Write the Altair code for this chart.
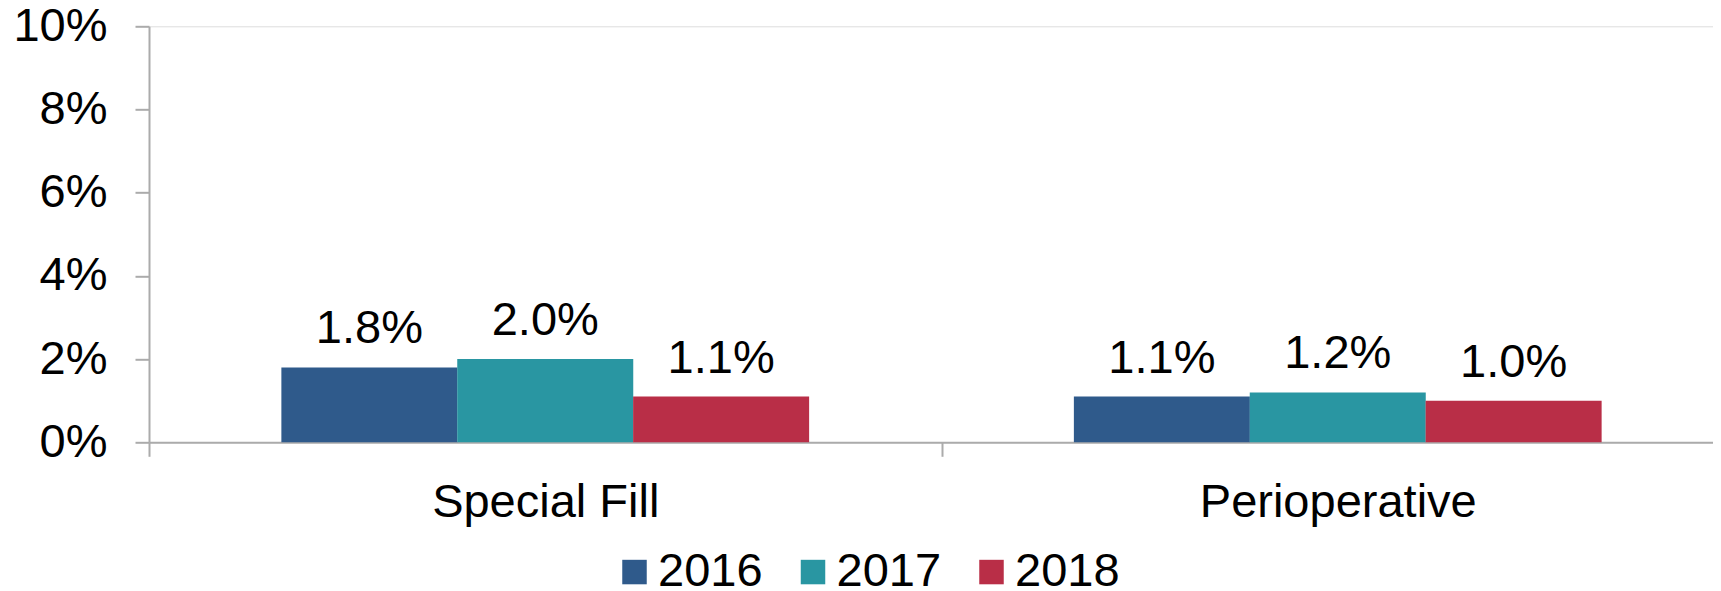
import altair as alt
import pandas as pd

categories = ["Special Fill", "Perioperative"]
years = ["2016", "2017", "2018"]
values_2016 = [0.018, 0.011]
values_2017 = [0.020, 0.012]
values_2018 = [0.011, 0.010]
y_ticks = [0, 0.02, 0.04, 0.06, 0.08, 0.10]
colors = ["#2F5A8B", "#2996A2", "#B92E47"]

rows = []
for year, vals in zip(years, [values_2016, values_2017, values_2018]):
    for cat, v in zip(categories, vals):
        rows.append({"category": cat, "year": year, "value": v})
df = pd.DataFrame(rows)

FONT = "Liberation Sans"
FS = 47
AXIS_COLOR = "#ABABAB"

x_enc = alt.X("category:N", sort=categories,
              scale=alt.Scale(paddingInner=0, paddingOuter=0, range=[0, 1585]),
              axis=alt.Axis(title=None, labelAngle=0, tickBand="extent", tickSize=14,
                            labelPadding=23, labelFontSize=FS, labelFont=FONT, labelLimit=0,
                            labelColor="#000000", domainColor=AXIS_COLOR, tickColor=AXIS_COLOR,
                            domainWidth=2, tickWidth=2, grid=False))
xoff = alt.XOffset("year:N", sort=years,
                   scale=alt.Scale(paddingInner=0, paddingOuter=0.753))
y_enc = alt.Y("value:Q", scale=alt.Scale(domain=[0, 0.10], nice=False),
              axis=alt.Axis(title=None, values=y_ticks, format=".0%", tickSize=14,
                            labelPadding=28, labelFontSize=FS, labelFont=FONT,
                            labelColor="#000000", domainColor=AXIS_COLOR, tickColor=AXIS_COLOR,
                            domainWidth=2, tickWidth=2, grid=False))
color_enc = alt.Color("year:N", sort=years,
                      scale=alt.Scale(domain=years, range=colors),
                      legend=alt.Legend(title=None, orient="none", direction="horizontal",
                                        legendX=462, legendY=522, symbolType="square",
                                        symbolSize=600, symbolStrokeWidth=0,
                                        labelFontSize=FS, labelFont=FONT, labelColor="#000000",
                                        labelOffset=0, columnPadding=26.5, padding=0,
                                        labelLimit=0))

bars = alt.Chart(df).mark_bar(size=176).encode(
    x=x_enc, xOffset=xoff, y=y_enc, color=color_enc
)
labels = alt.Chart(df).mark_text(dy=-24, baseline="alphabetic", fontSize=FS,
                                 font=FONT, color="#000000").encode(
    x=alt.X("category:N", sort=categories),
    xOffset=alt.XOffset("year:N", sort=years),
    y="value:Q",
    text=alt.Text("value:Q", format=".1%"),
)

chart = alt.layer(bars, labels).properties(
    width=1564, height=416,
    autosize=alt.AutoSizeParams(type="none"),
    padding={"left": 141, "top": 18.3, "right": 0, "bottom": 145.7},
).configure_view(stroke=None).configure(background="white")

chart.save("out.html", embed_options={"renderer": "svg", "actions": False})
